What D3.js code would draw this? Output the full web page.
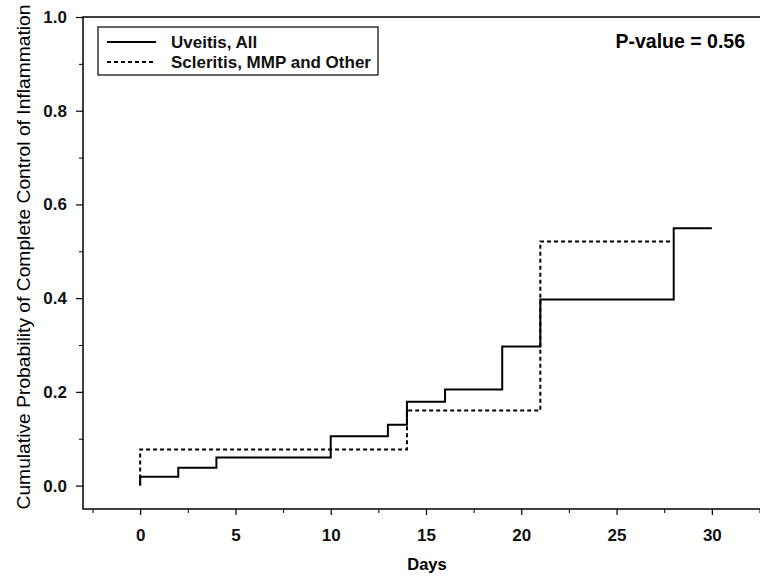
<!DOCTYPE html>
<html>
<head>
<meta charset="utf-8">
<script src="https://cdn.jsdelivr.net/npm/d3@7"></script>
<style>
  body { margin: 0; background: #fff; }
  svg { display: block; font-family: "Liberation Sans", Arial, sans-serif; }
</style>
</head>
<body>
<svg id="chart" width="760" height="578"></svg>
<script>
// step data
let uveitisDays = [0, 0, 2, 4, 10, 13, 14, 16, 19, 21, 28, 30];
let uveitisProb = [0, 0.019, 0.038, 0.06, 0.105, 0.13, 0.179, 0.205, 0.297, 0.397, 0.549, 0.549];
let scleritisDays = [0, 0, 14, 21, 28];
let scleritisProb = [0, 0.077, 0.16, 0.521, 0.521];

let xTicks = [0, 5, 10, 15, 20, 25, 30];
let xMinor = [-2.5, 2.5, 7.5, 12.5, 17.5, 22.5, 27.5, 32.5];
let yTicks = [0, 0.2, 0.4, 0.6, 0.8, 1.0];
let yMinor = [0.1, 0.3, 0.5, 0.7, 0.9];

let seriesNames = ["Uveitis, All", "Scleritis, MMP and Other"];

let svg = d3.select("#chart");

let x = d3.scaleLinear().domain([-3, 33]).range([83, 769]);
let y = d3.scaleLinear().domain([-0.05, 1]).range([509, 17]);

// frame
svg.append("rect")
  .attr("x", x(-3)).attr("y", y(1))
  .attr("width", x(33) - x(-3)).attr("height", y(-0.05) - y(1))
  .attr("fill", "none").attr("stroke", "#000").attr("stroke-width", 1.5);

// x axis
let xAxis = svg.append("g").attr("transform", "translate(0," + y(-0.05) + ")");
xAxis.call(d3.axisBottom(x).tickValues(xTicks).tickSize(6).tickPadding(14).tickFormat(d3.format("d")))
xAxis.selectAll(".tick text").attr("font-size", 17).attr("font-weight", "bold").attr("fill", "#111");
xAxis.select(".domain").remove();
xAxis.selectAll(".tick line").attr("stroke-width", 1.2);
let xAxisMinor = svg.append("g").attr("transform", "translate(0," + y(-0.05) + ")");
xAxisMinor.call(d3.axisBottom(x).tickValues(xMinor).tickSize(4).tickFormat(""));
xAxisMinor.select(".domain").remove();

// y axis
let yAxis = svg.append("g").attr("transform", "translate(" + x(-3) + ",0)");
yAxis.call(d3.axisLeft(y).tickValues(yTicks).tickSize(7).tickPadding(9).tickFormat(d3.format(".1f")));
yAxis.selectAll(".tick text").attr("font-size", 17).attr("font-weight", "bold").attr("fill", "#111");
yAxis.select(".domain").remove();
yAxis.selectAll(".tick line").attr("stroke-width", 1.2);
let yAxisMinor = svg.append("g").attr("transform", "translate(" + x(-3) + ",0)");
yAxisMinor.call(d3.axisLeft(y).tickValues(yMinor).tickSize(4).tickFormat(""));
yAxisMinor.select(".domain").remove();

// axis titles
svg.append("text")
  .attr("x", 427).attr("y", 570)
  .attr("text-anchor", "middle").attr("font-size", 16.5).attr("font-weight", "bold")
  .text("Days");

svg.append("text")
  .attr("transform", "translate(30,257) rotate(-90)")
  .attr("text-anchor", "middle").attr("font-size", 19)
  .attr("textLength", 505).attr("lengthAdjust", "spacingAndGlyphs")
  .text("Cumulative Probability of Complete Control of Inflammation");

// step lines
let line = d3.line()
  .x(d => x(d[0]))
  .y(d => y(d[1]))
  .curve(d3.curveStepAfter);

svg.append("path")
  .datum(d3.zip(uveitisDays, uveitisProb))
  .attr("d", line)
  .attr("fill", "none").attr("stroke", "#000").attr("stroke-width", 2);

svg.append("path")
  .datum(d3.zip(scleritisDays, scleritisProb))
  .attr("d", line)
  .attr("fill", "none").attr("stroke", "#000").attr("stroke-width", 2)
  .attr("stroke-dasharray", "4,3");

// legend
let legend = svg.append("g");
legend.append("rect")
  .attr("x", 98).attr("y", 27).attr("width", 280).attr("height", 48)
  .attr("fill", "#fff").attr("stroke", "#000").attr("stroke-width", 1.2);
seriesNames.forEach((name, i) => {
  let ly = 42 + i * 20;
  legend.append("line")
    .attr("x1", 107).attr("x2", 156).attr("y1", ly).attr("y2", ly)
    .attr("stroke", "#000").attr("stroke-width", 2)
    .attr("stroke-dasharray", i === 1 ? "4,3" : null);
  legend.append("text")
    .attr("x", 171).attr("y", ly + 6)
    .attr("font-size", 17).attr("font-weight", "bold").attr("fill", "#111")
    .text(name);
});

svg.append("text")
  .attr("x", 745).attr("y", 48)
  .attr("text-anchor", "end").attr("font-size", 19.5).attr("font-weight", "bold")
  .text("P-value = 0.56");
</script>
</body>
</html>
